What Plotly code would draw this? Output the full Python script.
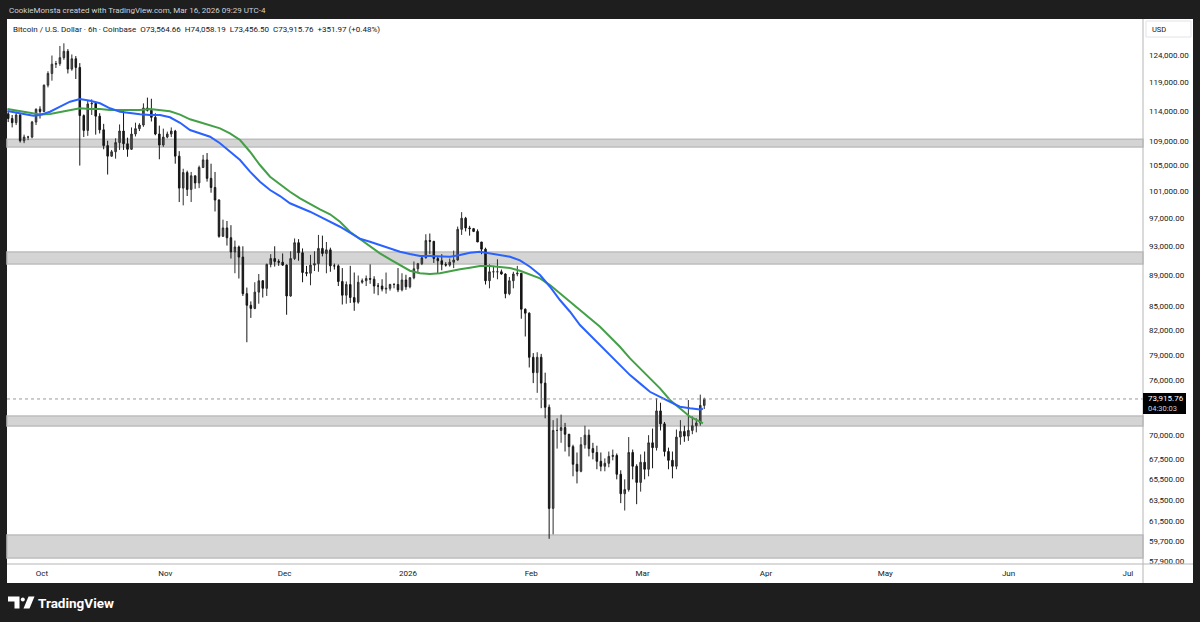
import math
import pandas as pd
import plotly.graph_objects as go

# ---------------- data (prices in thousands of USD, daily candles) ----------------
first_day = "2025-09-22 12:00"
first_open = 113.5
high = [
    # Sep 22-30
    113.9, 113.3, 113.9, 113.5, 110.0, 109.8, 112.3, 114.4, 114.8,
    # Oct
    118.6, 121.0, 123.9, 122.9, 125.7, 126.2, 125.1, 124.1, 123.8, 122.5,
    113.4, 115.8, 116.0, 115.5, 113.6, 111.8, 109.0, 107.5, 109.4, 111.7,
    114.0, 109.5, 111.2, 112.0, 111.9, 115.3, 116.3, 116.1, 113.6, 111.5, 111.0,
    # Nov
    110.5, 111.2, 110.8, 107.3, 104.5, 104.2, 104.0, 103.4, 105.0, 106.7,
    107.0, 105.3, 104.0, 99.8, 96.8, 96.6, 96.0, 93.8, 93.1, 93.0,
    87.4, 85.6, 88.1, 89.2, 88.4, 90.6, 91.9, 93.0, 91.2, 92.0,
    # Dec
    90.5, 92.3, 94.1, 94.0, 92.7, 90.3, 91.8, 92.3, 94.6, 94.5,
    93.6, 92.8, 90.6, 90.5, 90.0, 88.2, 90.3, 89.4, 89.0, 88.6,
    89.0, 90.5, 88.9, 88.0, 88.5, 89.4, 87.9, 88.0, 90.0, 89.3, 89.1,
    # Jan
    88.8, 90.9, 90.7, 91.7, 94.7, 94.8, 93.7, 91.6, 91.9, 90.8,
    91.3, 92.4, 95.8, 97.9, 97.2, 95.9, 95.6, 95.4, 93.6, 92.8,
    90.5, 90.3, 91.2, 89.8, 89.3, 88.8, 89.5, 90.3, 89.3, 84.7, 84.2,
    # Feb
    79.2, 79.3, 79.1, 76.9, 73.3, 71.6, 71.8, 72.2, 71.3, 70.0,
    69.0, 68.2, 69.8, 71.0, 70.6, 69.2, 68.9, 68.2, 67.6, 68.3,
    68.5, 68.1, 66.4, 65.5, 69.8, 68.5, 67.0, 68.0,
    # Mar 1-16
    68.3, 70.0, 70.7, 74.0, 73.5, 71.4, 68.7, 68.3, 70.6, 71.6,
    71.0, 73.8, 72.0, 71.8, 74.4, 74.058,
]
low = [
    112.1, 111.2, 111.6, 108.7, 108.6, 109.1, 109.4, 111.6, 112.7,
    113.8, 118.1, 119.3, 121.6, 122.0, 123.1, 120.6, 121.1, 119.6, 105.0,
    109.6, 109.8, 113.3, 110.0, 110.2, 107.6, 103.6, 106.4, 106.1, 107.5,
    107.5, 106.4, 107.5, 109.7, 110.6, 111.3, 113.9, 112.2, 109.9, 106.0, 108.0,
    109.4, 109.6, 105.3, 99.4, 98.9, 100.3, 99.4, 101.4, 101.5, 104.6,
    102.5, 100.8, 98.0, 94.2, 94.5, 93.1, 91.3, 89.3, 88.6, 86.3,
    80.5, 83.5, 84.6, 85.3, 86.1, 86.3, 90.1, 90.2, 90.3, 90.3,
    83.9, 86.2, 91.1, 91.0, 88.1, 88.9, 87.7, 89.6, 89.5, 91.6,
    89.3, 89.5, 89.8, 87.6, 85.2, 85.3, 85.4, 84.4, 85.3, 87.9,
    87.6, 87.9, 86.6, 86.4, 86.9, 86.6, 87.0, 87.3, 86.8, 86.9, 87.1,
    87.3, 88.5, 89.3, 90.4, 91.3, 91.9, 90.7, 89.3, 89.7, 90.2,
    90.2, 90.0, 91.0, 94.6, 95.1, 94.5, 95.0, 93.6, 91.9, 87.8,
    87.3, 88.7, 88.5, 89.1, 86.0, 86.4, 87.3, 88.9, 83.4, 81.2, 77.5,
    75.7, 74.6, 72.9, 71.8, 59.9, 60.3, 68.6, 69.2, 68.3, 67.8,
    65.8, 65.1, 66.2, 68.6, 67.8, 67.5, 66.5, 66.3, 66.3, 66.7,
    67.4, 65.5, 63.2, 62.5, 64.3, 65.5, 63.1, 64.3,
    65.5, 65.8, 66.6, 68.4, 70.5, 67.8, 66.5, 65.6, 66.5, 69.0,
    69.3, 69.4, 70.1, 70.3, 71.0, 72.8,
]
close = [
    112.7, 112.0, 113.3, 109.0, 109.6, 109.6, 112.1, 114.3, 113.9,
    118.5, 120.6, 122.3, 122.4, 123.5, 124.7, 121.4, 123.3, 121.7, 113.2,
    110.7, 115.2, 115.3, 113.1, 110.8, 108.2, 106.5, 107.2, 108.7, 110.6,
    108.5, 107.6, 110.1, 111.0, 111.6, 114.5, 114.1, 112.9, 110.1, 108.3, 109.6,
    110.1, 110.6, 106.5, 101.5, 103.9, 101.3, 103.4, 102.3, 104.7, 105.9,
    103.0, 101.6, 99.7, 94.4, 95.6, 94.2, 92.2, 92.9, 91.5, 86.6,
    85.1, 84.7, 86.8, 88.3, 87.3, 90.5, 91.3, 90.9, 90.8, 90.4,
    86.3, 91.3, 93.5, 92.1, 89.4, 89.3, 90.4, 90.6, 92.7, 92.0,
    92.5, 90.3, 90.3, 88.2, 86.4, 87.8, 86.1, 85.5, 88.1, 88.3,
    88.6, 88.5, 87.6, 87.6, 87.2, 87.3, 87.8, 87.8, 87.1, 88.4, 87.5,
    88.7, 89.9, 90.6, 91.4, 93.8, 93.7, 91.3, 91.0, 90.5, 90.4,
    90.8, 91.1, 95.4, 97.0, 95.6, 95.5, 95.1, 93.6, 92.6, 88.3,
    89.5, 89.5, 89.5, 89.2, 86.6, 88.3, 89.2, 89.3, 84.6, 84.1, 78.7,
    76.9, 78.7, 75.7, 73.0, 62.7, 70.5, 70.5, 70.8, 70.1, 68.8,
    67.0, 66.3, 69.0, 70.0, 68.6, 68.2, 67.3, 66.8, 67.1, 67.8,
    67.9, 66.0, 64.1, 64.5, 68.2, 66.8, 65.2, 67.2,
    66.5, 69.2, 68.7, 72.6, 71.2, 68.3, 67.4, 66.8, 69.8, 70.4,
    69.9, 70.5, 71.0, 71.3, 73.2, 73.91576,
]

ma_dates = [
    "2025-09-22 07:00", "2025-09-25 11:00", "2025-09-28 20:00", "2025-09-30 12:00",
    "2025-10-03 00:00", "2025-10-05 13:00", "2025-10-08 01:00", "2025-10-10 13:00",
    "2025-10-13 02:00", "2025-10-15 14:00", "2025-10-18 02:00", "2025-10-20 15:00",
    "2025-10-23 03:00", "2025-10-25 15:00", "2025-10-28 04:00", "2025-10-30 16:00",
    "2025-11-02 04:00", "2025-11-04 17:00", "2025-11-07 05:00", "2025-11-09 17:00",
    "2025-11-12 06:00", "2025-11-14 18:00", "2025-11-17 06:00", "2025-11-19 19:00",
    "2025-11-22 07:00", "2025-11-24 19:00", "2025-11-27 08:00", "2025-11-29 20:00",
    "2025-12-02 08:00", "2025-12-04 21:00", "2025-12-07 09:00", "2025-12-09 21:00",
    "2025-12-12 10:00", "2025-12-14 22:00", "2025-12-17 10:00", "2025-12-19 23:00",
    "2025-12-22 11:00", "2025-12-24 23:00", "2025-12-27 12:00", "2025-12-30 00:00",
    "2026-01-01 12:00", "2026-01-04 01:00", "2026-01-06 13:00", "2026-01-09 01:00",
    "2026-01-11 14:00", "2026-01-14 02:00", "2026-01-16 14:00", "2026-01-19 03:00",
    "2026-01-21 15:00", "2026-01-24 03:00", "2026-01-26 16:00", "2026-01-29 04:00",
    "2026-01-31 16:00", "2026-02-03 05:00", "2026-02-05 17:00", "2026-02-08 05:00",
    "2026-02-10 18:00", "2026-02-13 06:00", "2026-02-15 18:00", "2026-02-18 07:00",
    "2026-02-20 19:00", "2026-02-23 07:00", "2026-02-25 20:00", "2026-02-28 08:00",
    "2026-03-02 20:00", "2026-03-05 09:00", "2026-03-07 21:00", "2026-03-10 09:00",
    "2026-03-12 22:00", "2026-03-15 10:00", "2026-03-16 04:00",
]
ma_blue = [
    113.98, 113.59, 113.18, 113.30, 113.86, 114.72, 115.59, 116.06, 115.76, 115.31,
    114.45, 113.86, 113.59, 113.42, 113.30, 113.30, 112.91, 111.98, 110.77, 110.22,
    109.66, 108.58, 107.21, 105.88, 104.04, 102.48, 101.21, 100.30, 99.21, 98.61,
    97.96, 97.23, 96.50, 95.77, 94.94, 94.05, 93.64, 93.17, 92.71, 92.24,
    91.92, 91.64, 91.64, 91.64, 91.55, 91.78, 92.10, 92.24, 92.02, 91.78,
    91.55, 91.05, 90.18, 89.06, 87.51, 85.78, 84.28, 82.61, 81.38, 80.16,
    78.96, 77.79, 76.62, 75.67, 74.72, 74.16, 73.61, 73.06, 72.88, 72.77, 72.84,
]
ma_green = [
    114.33, 113.98, 113.59, 113.38, 113.47, 113.81, 114.07, 114.45, 114.33, 114.33,
    114.15, 114.15, 114.15, 114.15, 114.33, 114.15, 113.95, 113.37, 112.57, 112.06,
    111.61, 111.05, 110.22, 109.12, 107.21, 105.09, 103.26, 102.08, 100.95, 99.96,
    99.10, 98.32, 97.58, 96.50, 95.06, 93.99, 92.94, 92.02, 91.19, 90.41,
    89.64, 89.29, 89.20, 89.29, 89.60, 89.83, 90.05, 90.28, 90.28, 90.18,
    90.01, 89.63, 89.13, 88.62, 87.73, 86.65, 85.56, 84.49, 83.45, 82.40,
    81.17, 79.96, 78.57, 77.40, 76.25, 75.10, 73.80, 72.88, 71.97, 71.43, 71.26,
]

zone_low = [107.97, 90.55, 70.97, 58.19]
zone_high = [109.23, 92.20, 72.04, 60.24]

last_price = 73915.76
countdown = "04:30:03"
y_ticks = [124000, 119000, 114000, 109000, 105000, 101000, 97000, 93000, 89000, 85000,
           82000, 79000, 76000, 70000, 67500, 65500, 63500, 61500, 59700, 57900]
month_ticks = ["2025-10-01", "2025-11-01", "2025-12-01", "2026-01-01", "2026-02-01",
               "2026-03-01", "2026-04-01", "2026-05-01", "2026-06-01", "2026-07-01"]
month_labels = ["Oct", "Nov", "Dec", "2026", "Feb", "Mar", "Apr", "May", "Jun", "Jul"]
x_range = ["2025-09-22 04:48", "2026-07-04 19:12"]
y_range = [57670, 130700]

header_text = "CookieMonsta created with TradingView.com, Mar 16, 2026 09:29 UTC-4"
legend_text = ("Bitcoin / U.S. Dollar · 6h · Coinbase  O73,564.66  H74,058.19  "
               "L73,456.50  C73,915.76  +351.97 (+0.48%)")

# ---------------- build ----------------
K = 1000.0
dates = pd.date_range(first_day, periods=len(close), freq="D")
hi = [v * K for v in high]
lo = [v * K for v in low]
cl = [v * K for v in close]
op = [first_open * K] + cl[:-1]

W, H = 1200, 622
L, R, T, B = 7, 1143, 20, 564
FONT = "Roboto, Liberation Sans, Arial, sans-serif"


def px(x):
    return (x - L) / (R - L)


def py(y):
    return (B - y) / (B - T)


fig = go.Figure()
fig.add_trace(go.Candlestick(
    x=dates, open=op, high=hi, low=lo, close=cl,
    increasing=dict(line=dict(color="#2e2e2e", width=1), fillcolor="#555555"),
    decreasing=dict(line=dict(color="#161616", width=1), fillcolor="#161616"),
    whiskerwidth=0, showlegend=False, hoverinfo="skip",
))
fig.add_trace(go.Scatter(x=ma_dates, y=[v * K for v in ma_green], mode="lines",
                         line=dict(color="#43a047", width=2), showlegend=False, hoverinfo="skip"))
fig.add_trace(go.Scatter(x=ma_dates, y=[v * K for v in ma_blue], mode="lines",
                         line=dict(color="#2962ff", width=2), showlegend=False, hoverinfo="skip"))

shapes = []
# white chart panel over dark frame
shapes.append(dict(type="rect", xref="paper", yref="paper", x0=px(7), x1=px(1193),
                   y0=py(19), y1=py(583), fillcolor="#ffffff", line=dict(width=0), layer="below"))
# zones
for a, b in zip(zone_low, zone_high):
    shapes.append(dict(type="rect", xref="paper", yref="y", x0=0, x1=1, y0=a * K, y1=b * K,
                       fillcolor="#d4d4d4", line=dict(color="#bdbdbd", width=1.5), layer="below"))
# last price dotted line
shapes.append(dict(type="line", xref="paper", yref="y", x0=0, x1=1, y0=last_price, y1=last_price,
                   line=dict(color="#9a9a9a", width=1, dash="dot")))
# axis separators
shapes.append(dict(type="line", xref="paper", yref="paper", x0=px(1143), x1=px(1143),
                   y0=py(19), y1=py(583), line=dict(color="#b5b5b5", width=1)))
shapes.append(dict(type="line", xref="paper", yref="paper", x0=px(7), x1=px(1193),
                   y0=py(564), y1=py(564), line=dict(color="#b5b5b5", width=1)))
# USD button
shapes.append(dict(type="rect", xref="paper", yref="paper", x0=px(1146), x1=px(1191),
                   y0=py(37), y1=py(21), fillcolor="#ffffff", line=dict(color="#e0e3eb", width=1)))
# price label box
shapes.append(dict(type="rect", xref="paper", yref="paper", x0=px(1143), x1=px(1186),
                   y0=py(414), y1=py(393), fillcolor="#000000", line=dict(width=0)))


def path(points):
    s = "M " + " L ".join(f"{px(x):.5f},{py(y):.5f}" for x, y in points) + " Z"
    return s


# TradingView logo (approximation)
shapes.append(dict(type="path", xref="paper", yref="paper",
                   path=path([(8, 596.5), (19.5, 596.5), (19.5, 608.5), (14.5, 608.5), (14.5, 601.5), (8, 601.5)]),
                   fillcolor="#ffffff", line=dict(width=0)))
shapes.append(dict(type="circle", xref="paper", yref="paper", x0=px(20.8), x1=px(24.8),
                   y0=py(601.5), y1=py(597.5), fillcolor="#ffffff", line=dict(width=0)))
shapes.append(dict(type="path", xref="paper", yref="paper",
                   path=path([(28.5, 596.5), (34.5, 596.5), (29.5, 608.5), (23.5, 608.5)]),
                   fillcolor="#ffffff", line=dict(width=0)))

annotations = [
    dict(xref="paper", yref="paper", x=px(7), y=py(10), text=header_text, showarrow=False,
         xanchor="left", yanchor="middle", font=dict(family=FONT, size=8, color="#d1d1d1")),
    dict(xref="paper", yref="paper", x=px(11), y=py(29), text=legend_text, showarrow=False,
         xanchor="left", yanchor="middle", font=dict(family=FONT, size=8, color="#131722")),
    dict(xref="paper", yref="paper", x=px(1150), y=py(29.5), text="USD", showarrow=False,
         xanchor="left", yanchor="middle", font=dict(family=FONT, size=7.5, color="#131722")),
    dict(xref="paper", yref="paper", x=px(1146), y=py(398.5), text=f"{last_price:,.2f}", showarrow=False,
         xanchor="left", yanchor="middle", font=dict(family=FONT, size=8, color="#ffffff")),
    dict(xref="paper", yref="paper", x=px(1146), y=py(408.5), text=countdown, showarrow=False,
         xanchor="left", yanchor="middle", font=dict(family=FONT, size=7.5, color="#d0d0d0")),
    dict(xref="paper", yref="paper", x=px(36), y=py(603), text="<b>TradingView</b>", showarrow=False,
         xanchor="left", yanchor="middle", font=dict(family=FONT, size=13.5, color="#ffffff")),
]

fig.update_layout(
    width=W, height=H,
    margin=dict(l=L, r=W - R, t=T, b=H - B, pad=0),
    paper_bgcolor="#1e1e1e", plot_bgcolor="#ffffff",
    boxgap=0.45,
    showlegend=False, shapes=shapes, annotations=annotations,
    xaxis=dict(type="date", range=x_range, tickvals=month_ticks, ticktext=month_labels,
               showgrid=False, zeroline=False, showline=False, ticks="",
               tickfont=dict(family=FONT, size=8, color="#131722"), ticklabelstandoff=3,
               rangeslider=dict(visible=False), fixedrange=True),
    yaxis=dict(type="log", side="right", range=[math.log10(y_range[0]), math.log10(y_range[1])],
               tickvals=y_ticks, ticktext=[f"{v:,.2f}" for v in y_ticks],
               showgrid=False, zeroline=False, showline=False, ticks="",
               tickfont=dict(family=FONT, size=8, color="#131722"), ticklabelstandoff=5,
               automargin=False, fixedrange=True),
)

fig.write_html("out.html", config={"displayModeBar": False},
               post_script="document.body.style.margin='0px';document.body.style.overflow='hidden';")
